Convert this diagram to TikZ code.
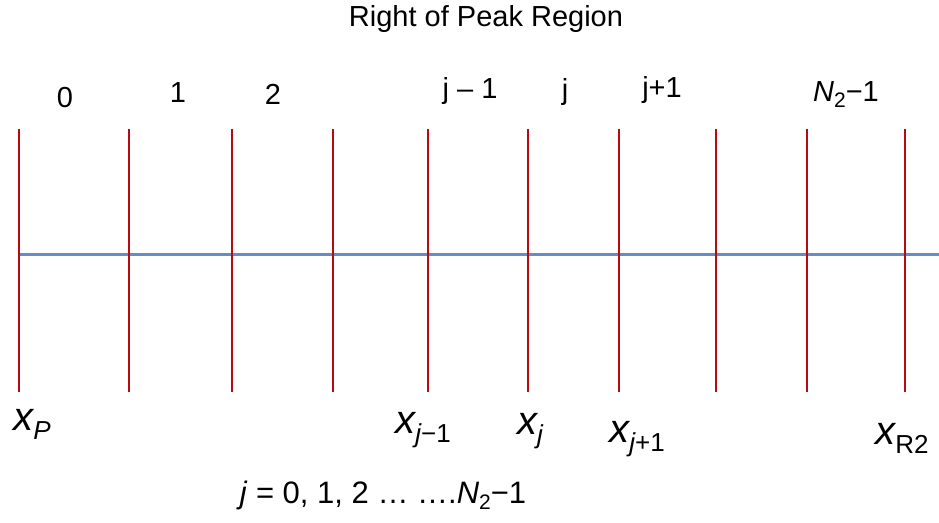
\documentclass[tikz,border=0pt]{standalone}
\usepackage{fontspec}
\setmainfont{Liberation Sans}
\usepackage{xcolor}
\usetikzlibrary{positioning}

\definecolor{gridred}{RGB}{185,10,20}
\definecolor{axisblue}{RGB}{100,140,200}

% x with a subscript, as under the grid lines
\newcommand{\xsub}[1]{{\fontsize{40}{42}\selectfont\itshape x}\raisebox{-9pt}{\fontsize{26}{29}\selectfont #1}}
\newcommand{\Nsub}{\textit{N}\raisebox{-6pt}{\fontsize{21}{24}\selectfont 2}}

\begin{document}
\begin{tikzpicture}[
    x=1pt, y=-1pt,
    cell/.style={font=\fontsize{29}{34}\selectfont, anchor=base, inner sep=0pt},
    xlabel/.style={anchor=base, inner sep=0pt},
    gridline/.style={draw=gridred, line width=2pt},
    axis/.style={draw=axisblue, line width=3pt}
]
\useasboundingbox (0,0) rectangle (939,522);

\node[cell] (title) at (486,27) {Right of Peak Region};

% grid line ends
\foreach \i/\x in {0/19,1/129,2/232,3/333,4/428,5/528,6/619,7/716,8/807,9/905} {
  \coordinate (t\i) at (\x,129);
  \coordinate (b\i) at (\x,392);
}
\coordinate (axl) at (20,254);
\coordinate (axr) at (939,254);

\draw[axis] (axl) -- (axr);
\foreach \i in {0,...,9}
  \draw[gridline] (t\i) -- (b\i);

% cell numbers
\node[cell] (c0) at (65,107) {0};
\node[cell] (c1) at (178,102) {1};
\node[cell] (c2) at (273,104) {2};
\node[cell] (cjm) at (470,98) {j – 1};
\node[cell] (cj) at (565,99) {j};
\node[cell] (cjp) at (662,97) {j+1};
\node[cell] (cN) at (846,101) {\Nsub−1};

% node positions
\node[xlabel] (xP) at (32,430) {\xsub{\itshape P}};
\node[xlabel] (xjm) at (423,433) {\xsub{\itshape j\upshape −1}};
\node[xlabel] (xj) at (530,434) {\xsub{\itshape j}};
\node[xlabel] (xjp) at (637,442) {\xsub{\itshape j\upshape +1}};
\node[xlabel] (xR) at (902,444) {\xsub{R2}};

\node[cell, font=\fontsize{31}{35}\selectfont] (range) at (383,503)
  {\textit{j} = 0, 1, 2 … ….\Nsub−1};

\end{tikzpicture}
\end{document}
